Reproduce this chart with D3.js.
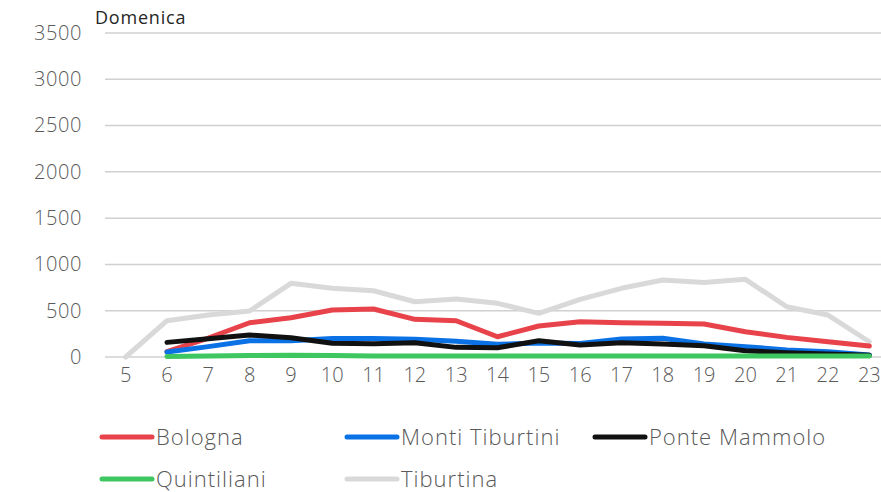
<!DOCTYPE html>
<html>
<head>
<meta charset="utf-8">
<script src="https://cdn.jsdelivr.net/npm/d3@7"></script>
<style>
  body { margin: 0; background: #fff; }
  text { font-family: "Open Sans", sans-serif; font-weight: 300; }
</style>
</head>
<body>
<svg id="chart" width="881" height="492"></svg>
<script>
// hours on the category axis
const hours = [5, 6, 7, 8, 9, 10, 11, 12, 13, 14, 15, 16, 17, 18, 19, 20, 21, 22, 23];
const yTicks = [0, 500, 1000, 1500, 2000, 2500, 3000, 3500];

const seriesNames = ['Bologna', 'Monti Tiburtini', 'Ponte Mammolo', 'Quintiliani', 'Tiburtina'];
const seriesColors = ['#e8434a', '#0b72e6', '#111111', '#3ec760', '#d9d9d9'];

const bologna        = [null, 57, 205, 370, 424, 507, 518, 407, 392, 219, 335, 381, 370, 364, 356, 273, 212, 165, 119];
const montiTiburtini = [null, 55, 112, 176, 176, 200, 200, 192, 170, 137, 150, 146, 194, 202, 140, 112, 76, 57, 22];
const ponteMammolo   = [null, 158, 198, 237, 208, 148, 143, 154, 104, 100, 176, 130, 154, 140, 122, 68, 46, 32, 18];
const quintiliani    = [null, 5, 10, 15, 20, 15, 10, 10, 10, 10, 10, 10, 10, 10, 10, 10, 10, 10, 10];
const tiburtina      = [0, 392, 453, 497, 796, 742, 716, 597, 626, 580, 472, 623, 742, 832, 806, 839, 543, 453, 165];

const seriesValues = [bologna, montiTiburtini, ponteMammolo, quintiliani, tiburtina];

const margin = { top: 33, left: 105, bottom: 135 };
const svg = d3.select('#chart');
const width = 785;
const height = 492 - margin.top - margin.bottom;

const chart = svg.append('g')
  .attr('transform', `translate(${margin.left},${margin.top})`);

const xScale = d3.scaleBand()
  .domain(hours)
  .range([0, width]);

const yScale = d3.scaleLinear()
  .domain([0, 3500])
  .range([height, 0]);

// gridlines
chart.selectAll('.grid')
  .data(yTicks)
  .enter()
  .append('line')
  .attr('x1', 0)
  .attr('x2', width)
  .attr('y1', d => yScale(d))
  .attr('y2', d => yScale(d))
  .style('stroke', '#d0d0d0')
  .style('stroke-width', 1.5);

const yaxis = d3.axisLeft(yScale).tickValues(yTicks).tickFormat(d3.format('d')).tickSize(0).tickPadding(23);
const yAxis = chart.append('g').call(yaxis);
yAxis.select('.domain').remove();
yAxis.selectAll('text')
  .style('font-size', '20px')
  .style('letter-spacing', '0.6px')
  .style('fill', '#595959');

const xaxis = d3.axisBottom(xScale).tickSize(0).tickPadding(11);
const xAxis = chart.append('g')
  .attr('transform', `translate(0, ${height})`)
  .call(xaxis);
xAxis.select('.domain').remove();
xAxis.selectAll('text')
  .style('font-size', '20px')
  .style('fill', '#595959');

const line = d3.line()
  .defined(d => d.v !== null)
  .x(d => xScale(d.h) + xScale.bandwidth() / 2)
  .y(d => yScale(d.v));

// draw grey series first so others sit on top, like the reference
const drawOrder = [4, 0, 1, 2, 3];
drawOrder.forEach(i => {
  const pts = hours.map((h, j) => ({ h: h, v: seriesValues[i][j] }));
  chart.append('path')
    .datum(pts)
    .attr('d', line)
    .style('fill', 'none')
    .style('stroke', seriesColors[i])
    .style('stroke-width', 5)
    .style('stroke-linejoin', 'round')
    .style('stroke-linecap', 'round');
});

// title
svg.append('text')
  .attr('x', 95)
  .attr('y', 24)
  .text('Domenica')
  .style('font-size', '18px')
  .style('font-weight', 400)
  .style('letter-spacing', '0.8px')
  .style('fill', '#262626');

// legend
const legendPos = [
  { x: 100, y: 437 }, { x: 345, y: 437 }, { x: 593, y: 437 },
  { x: 100, y: 479 }, { x: 345, y: 479 }
];
const legend = svg.selectAll('.legend')
  .data(seriesNames)
  .enter()
  .append('g')
  .attr('transform', (d, i) => `translate(${legendPos[i].x},${legendPos[i].y})`);

legend.append('line')
  .attr('x1', 2)
  .attr('x2', 52)
  .style('stroke', (d, i) => seriesColors[i])
  .style('stroke-width', 5)
  .style('stroke-linecap', 'round');

legend.append('text')
  .attr('x', 56)
  .attr('dy', '0.35em')
  .text(d => d)
  .style('font-size', '22px')
  .style('letter-spacing', '1px')
  .style('fill', '#595959');
</script>
</body>
</html>
